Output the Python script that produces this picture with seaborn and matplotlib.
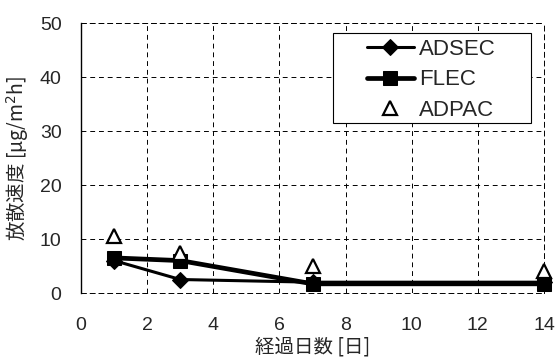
import matplotlib
matplotlib.use("Agg")
import matplotlib.pyplot as plt
import seaborn as sns
import pandas as pd
from matplotlib.patches import Rectangle

days = [1, 3, 7, 14]
adsec = [6.0, 2.5, 2.0, 2.0]
flec = [6.5, 6.0, 1.7, 1.7]
adpac = [10.5, 7.5, 5.0, 4.0]

x_ticks = [0, 2, 4, 6, 8, 10, 12, 14]
y_ticks = [0, 10, 20, 30, 40, 50]

sns.set_style("white")
plt.rcParams['font.family'] = ['Liberation Sans', 'Noto Sans CJK JP', 'DejaVu Sans']

W, H = 556, 357
fig = plt.figure(figsize=(W/100, H/100), dpi=100)
ax = fig.add_axes([81/W, 1-293/H, (544-81)/W, (293-23)/H])

df_adsec = pd.DataFrame({"x": days, "y": adsec})
df_flec = pd.DataFrame({"x": days, "y": flec})

sns.lineplot(data=df_adsec, x="x", y="y", ax=ax, color="black", lw=2.2,
             marker="D", markersize=8, markeredgecolor="black", label="ADSEC",
             zorder=4, clip_on=False)
sns.lineplot(data=df_flec, x="x", y="y", ax=ax, color="black", lw=3.4,
             marker="s", markersize=10, markeredgecolor="black", label="FLEC",
             zorder=3, clip_on=False)
ax.plot(days, adpac, linestyle="none", marker="^", markersize=10,
        markerfacecolor="white", markeredgecolor="black", markeredgewidth=1.6,
        label="ADPAC", zorder=5, clip_on=False)

ax.set_xlim(0, 14)
ax.set_ylim(0, 50)
ax.set_xticks(x_ticks)
ax.set_yticks(y_ticks)
ax.tick_params(axis="both", length=0, labelsize=14)
ax.tick_params(axis="x", pad=17)
ax.tick_params(axis="y", pad=14)
ax.grid(True, color="black", linestyle=(0, (5, 4)), linewidth=0.7)

for s in ["top", "right", "bottom"]:
    ax.spines[s].set_linestyle((0, (5, 4)))
    ax.spines[s].set_linewidth(0.7)
ax.spines["left"].set_linewidth(1.0)
for s in ax.spines.values():
    s.set_color("black")

ax.set_xlabel("経過日数 [日]", fontsize=14, family=['Noto Sans CJK JP', 'DejaVu Sans'], labelpad=2)
ax.set_ylabel("放散速度 [μg/m$^2$h]", fontsize=14, family=['Noto Sans CJK JP', 'DejaVu Sans'], labelpad=6)

frame = Rectangle((333/W, 1-123/H), (531-333)/W, (123-33)/H,
                  transform=fig.transFigure, fill=True, facecolor="white",
                  edgecolor="black", lw=0.8, zorder=6, clip_on=False)
ax.add_artist(frame)

leg = ax.legend(loc="upper left", bbox_to_anchor=(367/W, 1-39/H),
                bbox_transform=fig.transFigure, fontsize=16,
                frameon=False, handlelength=2.1, borderpad=0, borderaxespad=0,
                labelspacing=0.42, handletextpad=0.25)
leg.set_zorder(7)

fig.savefig("out.png", dpi=100)
